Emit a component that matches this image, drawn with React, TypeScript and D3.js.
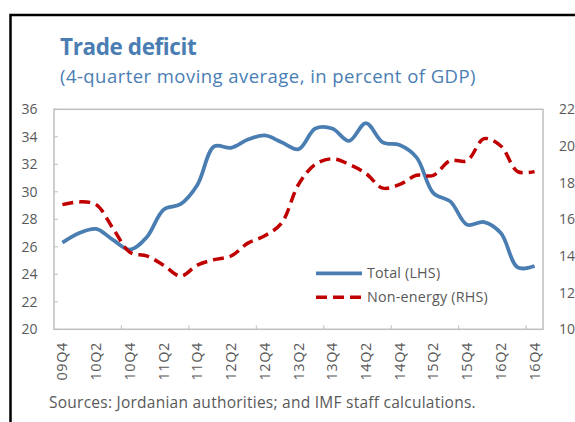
import React from 'react';
import * as d3 from 'd3';

// quarterly categories, 09Q4 .. 16Q4
const categories: string[] = [
    '09Q4',
    '10Q1', '10Q2', '10Q3', '10Q4',
    '11Q1', '11Q2', '11Q3', '11Q4',
    '12Q1', '12Q2', '12Q3', '12Q4',
    '13Q1', '13Q2', '13Q3', '13Q4',
    '14Q1', '14Q2', '14Q3', '14Q4',
    '15Q1', '15Q2', '15Q3', '15Q4',
    '16Q1', '16Q2', '16Q3', '16Q4',
];

// Total trade deficit (LHS), percent of GDP
const totalLHS: number[] = [
    26.3, 27.0, 27.3, 26.5, 25.8,
    26.7, 28.7, 29.1, 30.5,
    33.3, 33.2, 33.8, 34.1,
    33.6, 33.1, 34.6, 34.6,
    33.7, 35.0, 33.6, 33.4,
    32.5, 29.9, 29.3, 27.6,
    27.8, 27.0, 24.5, 24.6,
];

// Non-energy trade deficit (RHS)
const nonEnergyRHS: number[] = [
    16.8, 16.95, 16.8, 15.5, 14.2,
    14.0, 13.5, 12.9, 13.5,
    13.8, 14.0, 14.7, 15.1,
    15.8, 17.9, 19.0, 19.3,
    19.0, 18.5, 17.7, 17.9,
    18.4, 18.4, 19.2, 19.2,
    20.4, 20.0, 18.6, 18.6,
];

const leftTicks: number[] = [20, 22, 24, 26, 28, 30, 32, 34, 36];
const rightTicks: number[] = [10, 12, 14, 16, 18, 20, 22];

const BLUE = '#4a7eb3';
const RED = '#c00000';
const GREY = '#595959';
const FONT = '"Open Sans", "Noto Sans", sans-serif';

export default function App() {
    const width = 575;
    const height = 422;
    const plot = { left: 54, right: 543, top: 109.3, bottom: 329.3 };

    const x = d3.scaleBand<string>()
        .domain(categories)
        .range([plot.left, plot.right])
        .padding(0);
    const cx = (c: string) => (x(c) ?? 0) + x.bandwidth() / 2;

    const yL = d3.scaleLinear().domain([20, 36]).range([plot.bottom, plot.top]);
    const yR = d3.scaleLinear().domain([10, 22]).range([plot.bottom, plot.top]);

    const lineL = d3.line<number>()
        .x((_, i) => cx(categories[i]))
        .y(d => yL(d))
        .curve(d3.curveCatmullRom.alpha(0.5));
    const lineR = d3.line<number>()
        .x((_, i) => cx(categories[i]))
        .y(d => yR(d))
        .curve(d3.curveCatmullRom.alpha(0.5));

    // tick marks every 4 quarters, between categories
    const xTickPos = categories
        .map((c, i) => ({ c, i }))
        .filter(d => d.i > 0 && d.i % 4 === 0)
        .map(d => x(d.c) ?? 0);

    return (
        <svg width={width} height={height} style={{ position: 'absolute', left: 0, top: 0, background: '#fff' }}>
            {/* outer frame */}
            <rect x={10.5} y={15} width={600} height={500} fill="none" stroke="#000" strokeWidth={2.5} />

            <text x={60} y={55} fontFamily={FONT} fontWeight="bold" fontSize={22.5} fill={BLUE} letterSpacing={-0.4}>
                Trade deficit
            </text>
            <text x={60} y={83} fontFamily={FONT} fontSize={18.5} fill={BLUE} letterSpacing={0.45}>
                (4-quarter moving average, in percent of GDP)
            </text>

            {/* plot frame */}
            <rect x={plot.left} y={plot.top} width={plot.right - plot.left} height={plot.bottom - plot.top}
                fill="none" stroke="#bfbfbf" strokeWidth={1.5} />

            {/* left axis */}
            {leftTicks.map(t => (
                <g key={'l' + t}>
                    <line x1={plot.left} x2={plot.left + 4} y1={yL(t)} y2={yL(t)} stroke="#bfbfbf" />
                    <text x={37.5} y={yL(t)} dy="0.36em" textAnchor="end" fontFamily={FONT} fontSize={14} fill={GREY}>
                        {t}
                    </text>
                </g>
            ))}

            {/* right axis */}
            {rightTicks.map(t => (
                <text key={'r' + t} x={559} y={yR(t)} dy="0.36em" fontFamily={FONT} fontSize={14} fill={GREY}>
                    {t}
                </text>
            ))}

            {/* x axis */}
            {xTickPos.map((p, i) => (
                <line key={'xt' + i} x1={p} x2={p} y1={plot.bottom} y2={plot.bottom - 4} stroke="#bfbfbf" />
            ))}
            {categories.map((c, i) => i % 2 === 0 ? (
                <text key={'xl' + c}
                    transform={`translate(${cx(c) + 5},342) rotate(-90)`}
                    textAnchor="end" fontFamily={FONT} fontSize={14.5} letterSpacing={0.6} fill={GREY}>
                    {c}
                </text>
            ) : null)}

            {/* series */}
            <path d={lineL(totalLHS) ?? ''} fill="none" stroke={BLUE} strokeWidth={3.75} />
            <path d={lineR(nonEnergyRHS) ?? ''} fill="none" stroke={RED} strokeWidth={3.5} strokeDasharray="11,6" />

            {/* legend */}
            <line x1={316} x2={362} y1={273.3} y2={273.3} stroke={BLUE} strokeWidth={3.75} />
            <text x={367} y={273.3} dy="0.36em" fontFamily={FONT} fontSize={14.3} letterSpacing={0.2} fill={GREY}>Total (LHS)</text>
            <line x1={316} x2={362} y1={297.3} y2={297.3} stroke={RED} strokeWidth={3.5} strokeDasharray="11,6" />
            <text x={367} y={297.3} dy="0.36em" fontFamily={FONT} fontSize={14.3} letterSpacing={0.2} fill={GREY}>Non-energy (RHS)</text>

            <text x={49} y={408} fontFamily={FONT} fontSize={15.5} letterSpacing={0.25} fill={GREY}>
                Sources: Jordanian authorities; and IMF staff calculations.
            </text>
        </svg>
    );
}
